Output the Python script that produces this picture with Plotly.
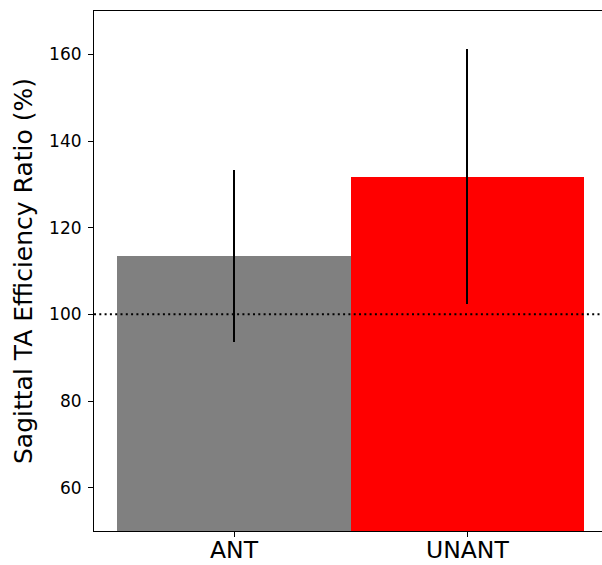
import plotly.graph_objects as go

# Group means and spread of the sagittal TA efficiency ratio
groups = ["ANT", "UNANT"]
means = [113.5, 131.8]
errors = [19.8, 29.4]
bar_colors = ["#808080", "#ff0000"]
reference_level = 100
y_ticks = [60, 80, 100, 120, 140, 160]

FONT = "DejaVu Sans"

fig = go.Figure()
fig.add_trace(go.Bar(
    x=groups,
    y=means,
    width=[1.0, 1.0],
    marker=dict(color=bar_colors, line=dict(width=0)),
    error_y=dict(type="data", array=errors, visible=True,
                 color="black", thickness=2.2, width=0),
    showlegend=False,
))

# Dotted reference line at 100 %
fig.add_shape(type="line", xref="paper", yref="y", x0=0, x1=1,
              y0=reference_level, y1=reference_level,
              line=dict(color="black", width=2, dash="2px,3.3px"),
              layer="above")

fig.add_annotation(text="Sagittal TA Efficiency Ratio (%)",
                   xref="paper", yref="paper", x=0, y=0.5,
                   xanchor="center", yanchor="middle", xshift=-71,
                   textangle=-90, showarrow=False,
                   font=dict(family=FONT, size=25, color="black"))

fig.update_layout(
    width=602, height=565,
    margin=dict(l=94, r=0, t=11, b=34, pad=0),
    paper_bgcolor="white", plot_bgcolor="white",
    bargap=0,
    font=dict(family=FONT, color="black"),
    xaxis=dict(range=[-0.6, 1.577], showgrid=False, zeroline=False,
               automargin=False, ticklabelstandoff=-7,
               showline=True, mirror=True, linecolor="black", linewidth=1.1,
               ticks="outside", ticklen=5, tickwidth=1.1, tickcolor="black",
               tickfont=dict(family=FONT, size=23.5, color="black")),
    yaxis=dict(range=[50, 170], tickvals=y_ticks, showgrid=False, zeroline=False,
               automargin=False, ticklabelstandoff=3,
               showline=True, mirror=False, linecolor="black", linewidth=1.1,
               ticks="outside", ticklen=5, tickwidth=1.1, tickcolor="black",
               tickfont=dict(family=FONT, size=17, color="black")),
)

fig.write_html("out.html")
